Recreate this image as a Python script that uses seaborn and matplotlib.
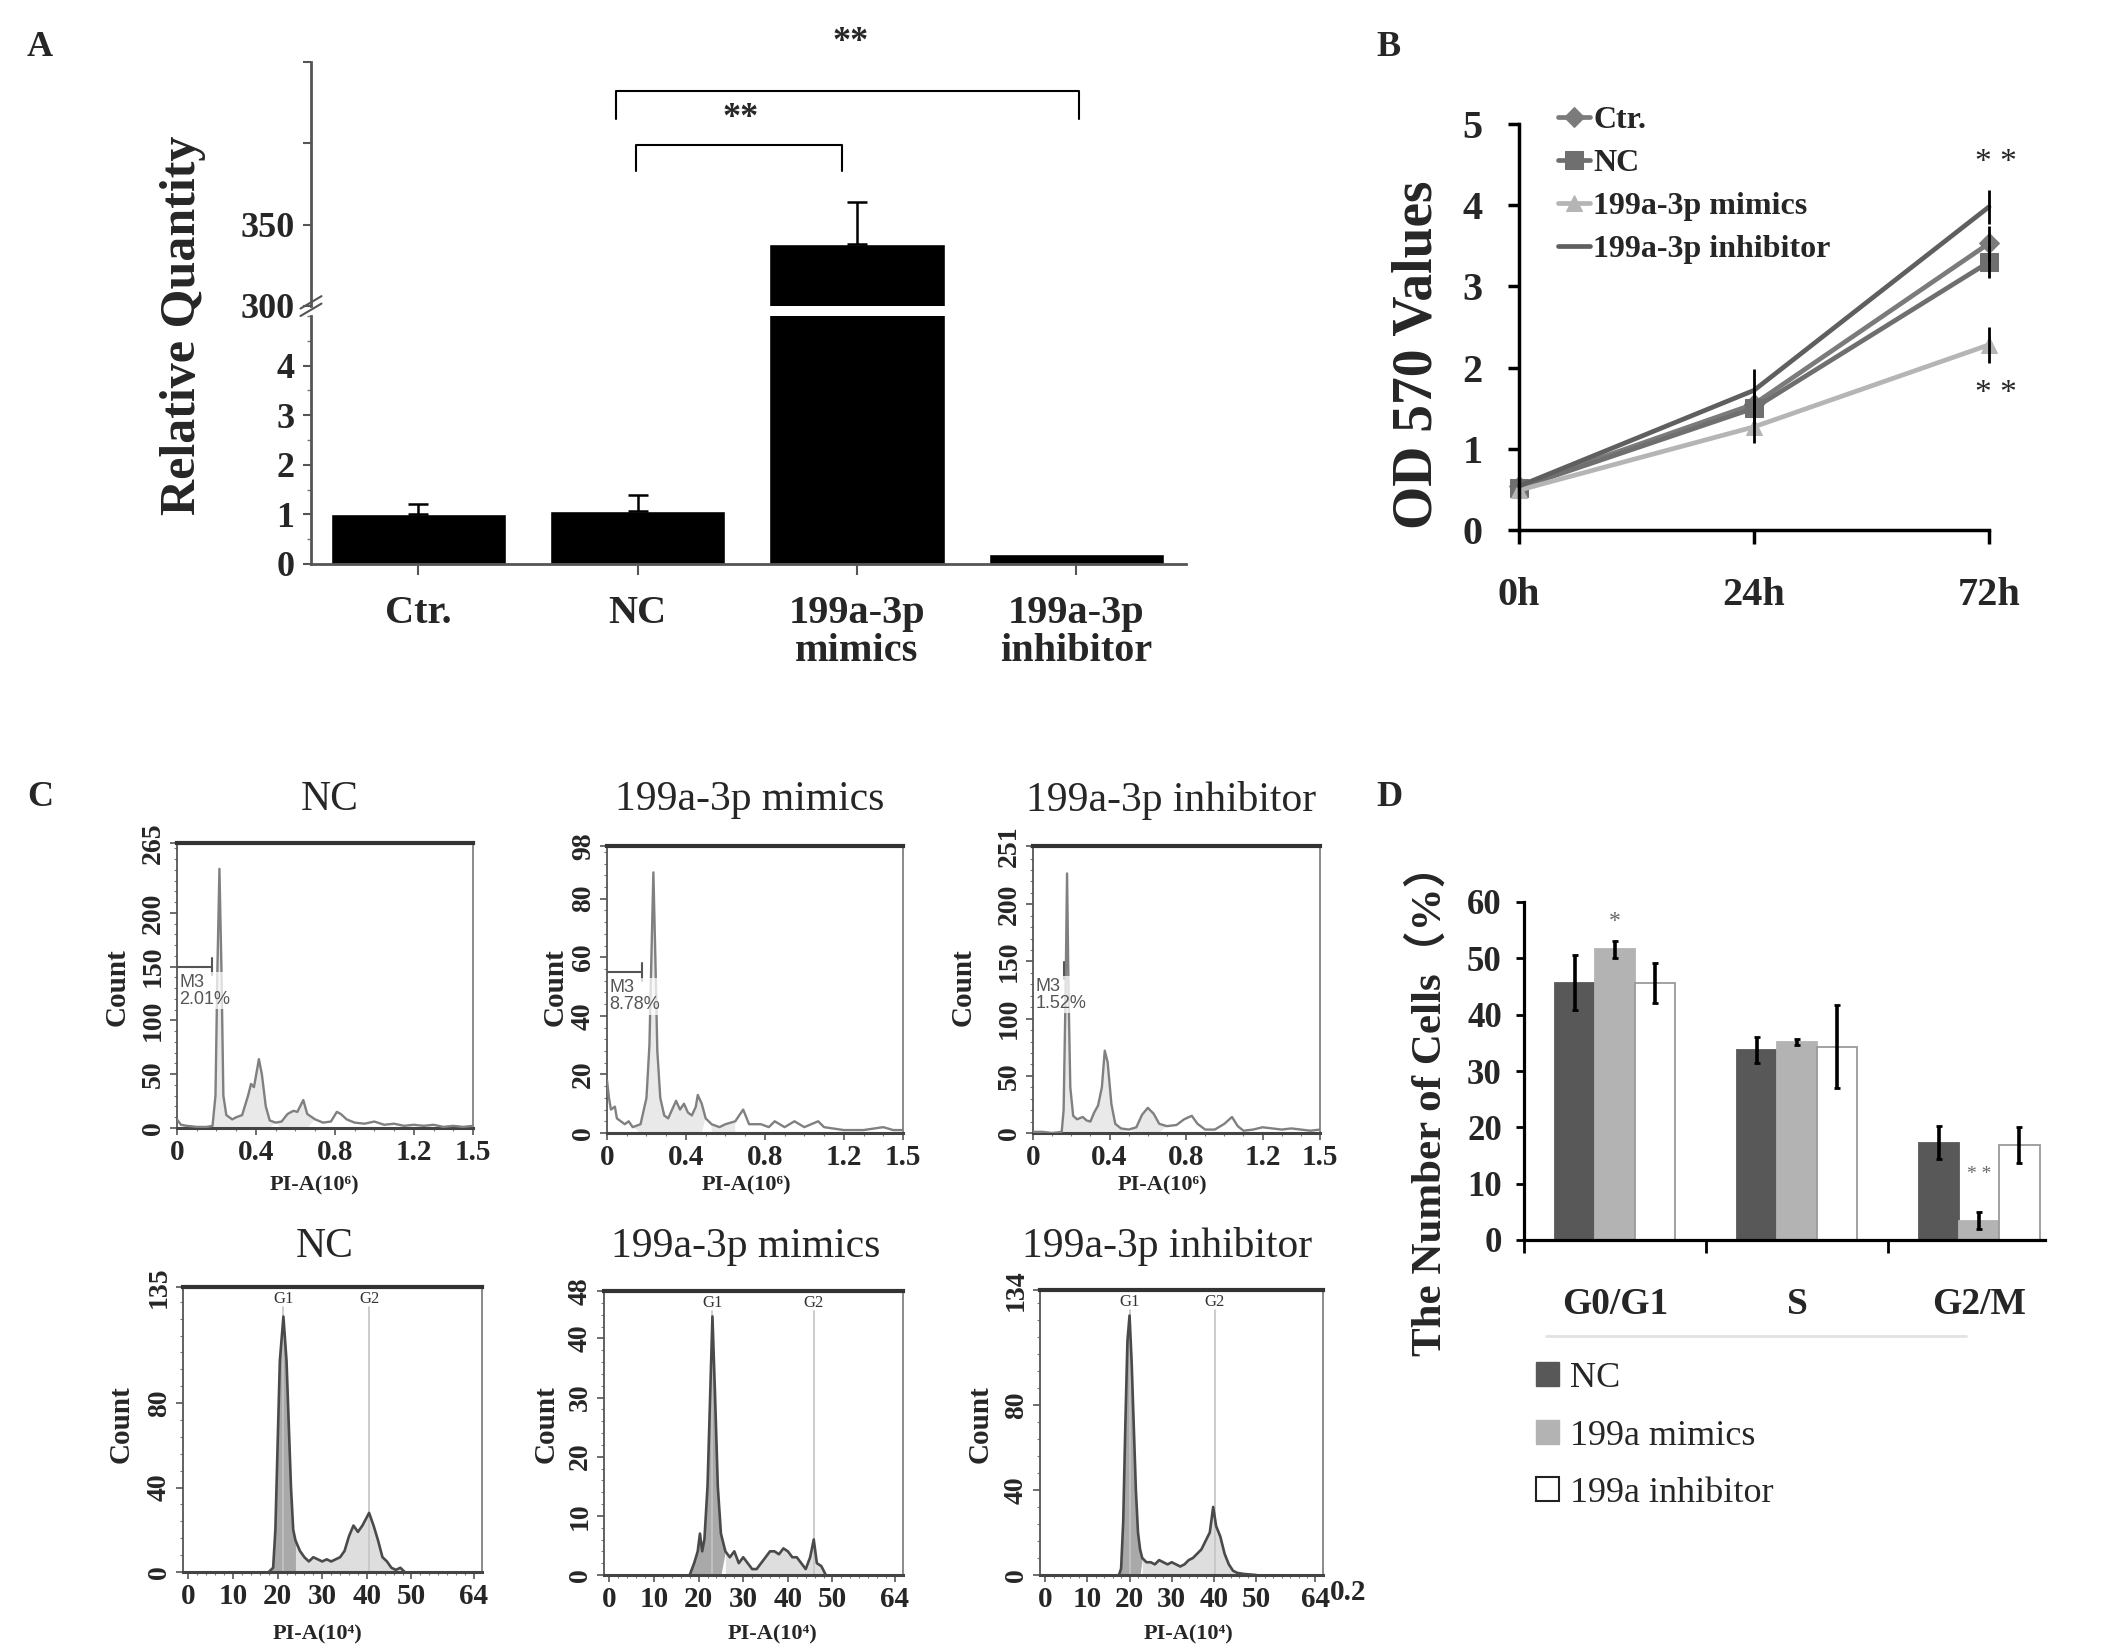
import numpy as np
import pandas as pd
import seaborn as sns
import matplotlib.pyplot as plt
from matplotlib.lines import Line2D
from matplotlib.patches import Patch
from matplotlib.ticker import AutoMinorLocator, MultipleLocator

# ---------------- data ----------------
# A: relative quantity (qPCR)
a_groups = ['Ctr.', 'NC', '199a-3p mimics', '199a-3p inhibitor']
a_ticklabels = ['Ctr.', 'NC', '199a-3p\nmimics', '199a-3p\ninhibitor']
a_values = [1.0, 1.06, 338, 0.21]
a_err = [0.21, 0.33, 26, 0.0]

# B: OD570 growth curve
b_times = ['0h', '24h', '72h']
b_groups = ['Ctr.', 'NC', '199a-3p mimics', '199a-3p inhibitor']
b_ctr = [0.54, 1.55, 3.53]
b_nc = [0.52, 1.50, 3.30]
b_mimics = [0.49, 1.27, 2.28]
b_inhib = [0.54, 1.72, 3.98]
b_ctr_err = [0.05, 0.20, 0.22]
b_nc_err = [0.05, 0.20, 0.20]
b_mimics_err = [0.05, 0.20, 0.22]
b_inhib_err = [0.05, 0.26, 0.21]

# C: flow cytometry histograms, (PI-A, count)
c_titles = ['NC', '199a-3p mimics', '199a-3p inhibitor']
hist_nc_top = [(0.00, 8), (0.02, 3), (0.05, 2), (0.10, 1), (0.15, 1), (0.18, 2), (0.195, 30),
               (0.205, 150), (0.215, 241), (0.225, 150), (0.235, 30), (0.25, 12), (0.28, 8),
               (0.30, 10), (0.33, 12), (0.36, 30), (0.375, 41), (0.39, 38), (0.415, 64),
               (0.43, 50), (0.45, 20), (0.47, 7), (0.50, 5), (0.53, 6), (0.56, 13), (0.59, 16),
               (0.61, 15), (0.64, 26), (0.66, 13), (0.70, 8), (0.74, 5), (0.78, 6), (0.81, 15),
               (0.83, 13), (0.86, 8), (0.90, 5), (0.95, 4), (1.00, 6), (1.05, 3), (1.10, 4),
               (1.15, 2), (1.20, 3), (1.25, 2), (1.30, 3), (1.35, 1), (1.40, 2), (1.45, 1), (1.50, 2)]
hist_mimics_top = [(0.00, 18), (0.01, 12), (0.02, 8), (0.04, 9), (0.05, 5), (0.07, 4), (0.09, 3),
                   (0.11, 4), (0.13, 2), (0.17, 3), (0.20, 12), (0.215, 30), (0.225, 60),
                   (0.235, 89), (0.245, 60), (0.255, 28), (0.27, 12), (0.29, 6), (0.31, 5),
                   (0.33, 8), (0.35, 11), (0.37, 8), (0.39, 10), (0.41, 7), (0.43, 6), (0.45, 9),
                   (0.46, 13), (0.48, 10), (0.50, 5), (0.53, 3), (0.57, 2), (0.60, 3), (0.65, 4),
                   (0.69, 8), (0.72, 3), (0.78, 3), (0.82, 2), (0.85, 4), (0.90, 2), (0.95, 4),
                   (1.00, 2), (1.07, 4), (1.10, 2), (1.20, 1), (1.30, 1), (1.40, 2), (1.45, 1), (1.50, 1)]
hist_inhib_top = [(0.00, 1), (0.05, 1), (0.10, 0), (0.15, 1), (0.16, 20), (0.17, 120), (0.178, 227),
                  (0.186, 120), (0.195, 40), (0.21, 15), (0.23, 12), (0.26, 14), (0.28, 11),
                  (0.30, 10), (0.32, 18), (0.34, 24), (0.36, 40), (0.375, 72), (0.39, 62),
                  (0.41, 25), (0.43, 8), (0.46, 4), (0.50, 3), (0.54, 5), (0.57, 16), (0.60, 22),
                  (0.63, 17), (0.66, 8), (0.70, 6), (0.75, 7), (0.79, 12), (0.83, 15), (0.86, 8),
                  (0.90, 3), (0.95, 3), (1.00, 8), (1.04, 14), (1.07, 6), (1.10, 2), (1.15, 3),
                  (1.20, 5), (1.25, 4), (1.30, 3), (1.35, 4), (1.40, 3), (1.45, 2), (1.50, 3)]
top_ymax = [265, 98, 251]
top_yticks = [[0, 50, 100, 150, 200, 265], [0, 20, 40, 60, 80, 98], [0, 50, 100, 150, 200, 251]]
m3_text = ['M3\n2.01%', 'M3\n8.78%', 'M3\n1.52%']
m3_level = [150, 55, 142]

hist_nc_bot = [(18, 0), (19, 2), (19.5, 20), (20, 60), (20.5, 100), (21.3, 121), (22, 100),
               (22.5, 70), (23, 40), (23.5, 20), (24, 15), (25, 10), (26, 7), (27, 5), (28, 7),
               (29, 6), (30, 5), (31, 6), (32, 5), (33, 6), (34, 7), (35, 10), (36, 17), (37, 22),
               (38, 19), (39, 22), (40.5, 28), (41.5, 22), (42.5, 15), (43.5, 7), (44.5, 5),
               (45.5, 2), (46.5, 1), (47.5, 2), (48.5, 0)]
hist_mimics_bot = [(18, 0), (19, 2), (19.8, 4), (20.3, 7), (20.8, 4), (21.3, 6), (22, 15),
                   (22.5, 28), (23.1, 43.7), (23.7, 30), (24.3, 15), (25, 7), (26, 4), (27, 3),
                   (28, 4), (29, 2), (30, 3), (31, 2), (32, 1), (33, 1), (34, 2), (35, 3), (36, 4),
                   (37, 4), (38, 3.5), (39, 4.5), (40, 4), (41, 3), (42, 3), (43, 2), (44, 1),
                   (45, 3), (45.8, 6), (46.5, 2), (47.5, 1.5), (48.5, 0)]
hist_inhib_bot = [(17.5, 0), (18, 3), (18.5, 25), (19, 70), (19.5, 110), (20, 122), (20.5, 100),
                  (21, 70), (21.5, 40), (22, 20), (22.5, 12), (23, 8), (24, 6), (25, 6), (26, 5),
                  (27, 7), (28, 6), (29, 5), (30, 6), (31, 5), (32, 4), (33, 5), (34, 7), (35, 8),
                  (36, 10), (37, 12), (38, 16), (39, 20), (39.8, 32), (40.5, 23), (41.5, 18),
                  (42.5, 10), (43.5, 5), (44.5, 2), (45.5, 1), (47, 0.5), (50, 0)]
bot_ymax = [135, 48, 134]
bot_yticks = [[0, 40, 80, 135], [0, 10, 20, 30, 40, 48], [0, 40, 80, 134]]
g1_pos = [21.3, 23.1, 20.0]
g2_pos = [40.5, 45.8, 40.2]

# D: cell cycle distribution
d_phases = ['G0/G1', 'S', 'G2/M']
d_groups = ['NC', '199a mimics', '199a inhibitor']
d_nc = [45.7, 33.8, 17.3]
d_mimics = [51.6, 35.2, 3.4]
d_inhib = [45.6, 34.3, 16.8]
d_nc_err = [4.9, 2.3, 3.0]
d_mimics_err = [1.5, 0.5, 1.5]
d_inhib_err = [3.5, 7.4, 3.2]

# ---------------- figure ----------------
W, H = 2126, 1646
sns.set_style("ticks")
plt.rcParams['font.family'] = ['Liberation Serif', 'Noto Sans CJK SC', 'DejaVu Sans']
fig = plt.figure(figsize=(W / 100, H / 100), dpi=100)


def add_ax(l, t, r, b):
    return fig.add_axes([l / W, 1 - b / H, (r - l) / W, (b - t) / H])


def ftext(x, y, s, **kw):
    fig.text(x / W, 1 - y / H, s, **kw)


for lab, (x, y) in zip('ABCD', [(27, 47), (1376, 47), (27, 797), (1376, 797)]):
    ftext(x, y, lab, fontsize=26, fontweight='bold', ha='left', va='center')

# ---------------- A ----------------
ax_hi = add_ax(311, 62, 1186, 306)
ax_lo = add_ax(311, 316, 1186, 564)
for ax in (ax_hi, ax_lo):
    sns.barplot(x=a_groups, y=a_values, color='black', width=0.8, errorbar=None,
                saturation=1, ax=ax)
    ax.set_xlim(-0.49, 3.5)
    for s in ax.spines.values():
        s.set_color('#555555')
        s.set_linewidth(2)
    ax.spines['top'].set_visible(False)
    ax.spines['right'].set_visible(False)

centers = [p.get_x() + p.get_width() / 2 for p in ax_lo.patches]
ax_lo.set_ylim(0, 5)
ax_lo.set_yticks([0, 1, 2, 3, 4])
ax_lo.yaxis.set_minor_locator(MultipleLocator(0.5))
ax_lo.set_yticklabels(['0', '1', '2', '3', '4'], fontsize=26, fontweight='bold')
ax_lo.set_xticks(range(4))
ax_lo.set_xticklabels(a_ticklabels, fontsize=29, fontweight='bold', linespacing=1.05)
ax_lo.tick_params(axis='x', length=8, width=1.5, color='#555555', pad=14)
ax_lo.tick_params(axis='y', which='major', length=6, width=1.5, color='#555555', pad=6)
ax_lo.tick_params(axis='y', which='minor', length=3, width=1, color='#777777')
ax_lo.errorbar(centers[:2], a_values[:2], yerr=[[0, 0], a_err[:2]], fmt='none',
               ecolor='black', elinewidth=1.8, capsize=7, capthick=1.8)

ax_hi.set_ylim(300, 450)
ax_hi.spines['bottom'].set_visible(False)
ax_hi.set_xticks([])
ax_hi.set_yticks([300, 350, 400, 450])
ax_hi.set_yticklabels(['300', '350', '', ''], fontsize=26, fontweight='bold')
ax_hi.tick_params(axis='y', length=6, width=1.5, color='#555555', pad=6)
ax_hi.errorbar([centers[2]], [a_values[2]], yerr=[[0], [a_err[2]]], fmt='none',
               ecolor='black', elinewidth=1.8, capsize=7, capthick=1.8)
ax_hi.set_xlabel('')
ax_lo.set_xlabel('')

# axis break marks
for dy in (0.0, 0.03):
    ax_lo.plot([-0.012, 0.012], [1.0 + dy, 1.05 + dy], transform=ax_lo.transAxes,
               color='#555555', lw=1.5, clip_on=False)

# significance brackets
def bracket(ax, x0, x1, y, drop, label, ty):
    ax.plot([x0, x0, x1, x1], [y - drop, y, y, y - drop], color='black', lw=1.5, clip_on=False)
    ax.text(ty[0], ty[1], label, ha='center', va='center',
            fontsize=26, fontweight='bold', clip_on=False)

bracket(ax_hi, 0.90, 3.01, 432, 17, '**', (1.97, 462))
bracket(ax_hi, 0.99, 1.93, 399, 16, '**', (1.47, 415))
ftext(183, 325, 'Relative Quantity', rotation=90, fontsize=36, fontweight='bold',
      ha='center', va='center')

# ---------------- B ----------------
ax_b = add_ax(1519, 124, 1989, 530)
b_series = [b_ctr, b_nc, b_mimics, b_inhib]
b_errs = [b_ctr_err, b_nc_err, b_mimics_err, b_inhib_err]
b_colors = ['#7b7b7b', '#6f6f6f', '#b5b5b5', '#5f5f5f']
b_markers = ['D', 's', '^', None]
b_msize = [10, 13, 12, 0]
for name, vals, err, c, m, ms in zip(b_groups, b_series, b_errs, b_colors, b_markers, b_msize):
    sns.lineplot(x=b_times, y=vals, ax=ax_b, color=c, lw=3.4, marker=m, markersize=ms,
                 markeredgecolor=c, label=name, sort=False, clip_on=False)
for vals, err in zip(b_series, b_errs):
    ax_b.errorbar(b_times, vals, yerr=err, fmt='none', ecolor='black', elinewidth=2,
                  capsize=0, zorder=5, clip_on=False)
ax_b.set_xlim(0, 2)
ax_b.set_ylim(0, 5)
ax_b.set_yticks([0, 1, 2, 3, 4, 5])
ax_b.set_yticklabels(['0', '1', '2', '3', '4', '5'], fontsize=29, fontweight='bold')
ax_b.set_xticks([0, 1, 2])
ax_b.set_xticklabels(b_times, fontsize=29, fontweight='bold')
ax_b.tick_params(axis='x', length=10, width=2.5, color='black', pad=24)
ax_b.tick_params(axis='y', length=8, width=2.5, color='black', pad=18)
for s in ('top', 'right'):
    ax_b.spines[s].set_visible(False)
for s in ('left', 'bottom'):
    ax_b.spines[s].set_linewidth(2.5)
    ax_b.spines[s].set_color('black')
ax_b.set_xlabel('')
ax_b.set_ylabel('')
handles, labels = ax_b.get_legend_handles_labels()
ax_b.legend(handles, labels, loc='upper left', bbox_to_anchor=(1558 / W, 1 - 106 / H),
            bbox_transform=fig.transFigure, frameon=False, handlelength=1.0,
            handletextpad=0.1, labelspacing=0.42, borderpad=0, borderaxespad=0,
            prop={'family': 'Liberation Serif', 'weight': 'bold', 'size': 23})
ax_b.text(2.03, 4.52, '* *', ha='center', va='center', fontsize=24, clip_on=False)
ax_b.text(2.03, 1.68, '* *', ha='center', va='center', fontsize=24, clip_on=False)
ftext(1417, 355, 'OD 570 Values', rotation=90, fontsize=40, fontweight='bold',
      ha='center', va='center')

# ---------------- C ----------------
def style_hist(ax, xlim, xticks, xticklabels, ylim, yticks):
    ax.set_xlim(*xlim)
    ax.set_ylim(*ylim)
    ax.set_xticks(xticks)
    ax.set_xticklabels(xticklabels, fontsize=21, fontweight='bold')
    ax.set_yticks(yticks)
    ax.set_yticklabels([str(t) for t in yticks], fontsize=20, fontweight='bold',
                       rotation=90, va='center')
    ax.xaxis.set_minor_locator(AutoMinorLocator(4))
    ax.yaxis.set_minor_locator(AutoMinorLocator(5))
    ax.tick_params(which='major', length=5, width=1.2, color='#555555', pad=3)
    ax.tick_params(which='minor', length=2.5, width=0.8, color='#777777')
    ax.spines['top'].set_linewidth(3)
    ax.spines['top'].set_color('#333333')
    ax.spines['right'].set_linewidth(1.2)
    ax.spines['right'].set_color('#777777')
    ax.spines['left'].set_linewidth(1.3)
    ax.spines['left'].set_color('#555555')
    ax.spines['bottom'].set_linewidth(2.2)
    ax.spines['bottom'].set_color('#444444')
    ax.set_xlabel('')
    ax.set_ylabel('')


top_boxes = [(177, 843, 473, 1128), (607, 846, 903, 1133), (1033, 846, 1320, 1133)]
bot_boxes = [(183, 1287, 482, 1572), (604, 1291, 903, 1575), (1040, 1290, 1323, 1575)]
top_hists = [hist_nc_top, hist_mimics_top, hist_inhib_top]
bot_hists = [hist_nc_bot, hist_mimics_bot, hist_inhib_bot]
title_x_top = [330, 750, 1171]
title_x_bot = [325, 746, 1167]
count_x_top = [117, 555, 963]
count_x_bot = [121, 546, 980]
xlab_x_top = [314, 746, 1162]
xlab_x_bot = [317, 772, 1188]

for i in range(3):
    # top row
    ax = add_ax(*top_boxes[i])
    xs, ys = np.array(top_hists[i], dtype=float).T
    sns.lineplot(x=xs, y=ys, ax=ax, color='#808080', lw=1.7, zorder=3)
    ax.fill_between(xs, ys, where=((xs >= 0.15) & (xs <= 0.48)) | ((xs >= 0.53) & (xs <= 0.68)),
                    color='#e9e9e9', interpolate=True, zorder=1, lw=0)
    style_hist(ax, (0, 1.5), [0, 0.4, 0.8, 1.2, 1.5], ['0', '0.4', '0.8', '1.2', '1.5'],
               (0, top_ymax[i]), top_yticks[i])
    lvl = m3_level[i]
    tick_h = top_ymax[i] * 0.03
    if i < 2:
        ax.plot([0, 0.175], [lvl, lvl], color='#555555', lw=1.5, zorder=4)
    ax.plot([0.175 if i < 2 else 0.16] * 2, [lvl - tick_h, lvl + tick_h], color='#555555',
            lw=1.5, zorder=4)
    ax.text(0.012, lvl - top_ymax[i] * 0.025, m3_text[i], ha='left', va='top', fontsize=13,
            color='#555555', family='Liberation Sans', linespacing=1.0, zorder=5,
            bbox=dict(facecolor='white', edgecolor='none', alpha=0.75, pad=1))
    ftext(title_x_top[i], 800, c_titles[i], fontsize=30, ha='center', va='center')
    ftext(count_x_top[i], 987, 'Count', rotation=90, fontsize=21, fontweight='bold',
          ha='center', va='center')
    ftext(xlab_x_top[i], 1185, 'PI-A(10\u2076)', fontsize=16, fontweight='bold',
          ha='center', va='center')

    # bottom row
    ax = add_ax(*bot_boxes[i])
    xs, ys = np.array(bot_hists[i], dtype=float).T
    split = g1_pos[i] + 2.7
    ax.fill_between(xs, ys, where=xs <= split, color='#a9a9a9', interpolate=True, zorder=1, lw=0)
    ax.fill_between(xs, ys, where=xs >= split, color='#dedede', interpolate=True, zorder=1, lw=0)
    sns.lineplot(x=xs, y=ys, ax=ax, color='#4a4a4a', lw=1.9, zorder=3)
    for g, gl in zip((g1_pos[i], g2_pos[i]), ('G1', 'G2')):
        ax.axvline(g, ymin=0, ymax=0.93, color='#c4c4c4', lw=1.2, zorder=2)
        ax.text(g, 0.985, gl, transform=ax.get_xaxis_transform(), ha='center', va='top',
                fontsize=12, color='#333333')
    style_hist(ax, (-1.2, 65.8), [0, 10, 20, 30, 40, 50, 64],
               ['0', '10', '20', '30', '40', '50', '64'], (0, bot_ymax[i]), bot_yticks[i])
    ax.xaxis.set_minor_locator(MultipleLocator(2))
    ftext(title_x_bot[i], 1247, c_titles[i], fontsize=30, ha='center', va='center')
    ftext(count_x_bot[i], 1424, 'Count', rotation=90, fontsize=21, fontweight='bold',
          ha='center', va='center')
    ftext(xlab_x_bot[i], 1634, 'PI-A(10\u2074)', fontsize=16, fontweight='bold',
          ha='center', va='center')

ftext(1330, 1592, '0.2', fontsize=21, fontweight='bold', ha='left', va='center')

# ---------------- D ----------------
ax_d = add_ax(1524, 902, 2045, 1240)
d_df = pd.DataFrame({
    'phase': d_phases * 3,
    'group': [g for g in d_groups for _ in d_phases],
    'value': d_nc + d_mimics + d_inhib,
})
d_colors = ['#585858', '#b3b3b3', '#ffffff']
sns.barplot(data=d_df, x='phase', y='value', hue='group', hue_order=d_groups,
            palette=d_colors, width=0.66, errorbar=None, saturation=1, legend=False, ax=ax_d)
d_errs = [d_nc_err, d_mimics_err, d_inhib_err]
bars = ax_d.patches
for gi in range(3):
    grp_bars = bars[gi * 3:(gi + 1) * 3]
    xs = [p.get_x() + p.get_width() / 2 for p in grp_bars]
    hs = [p.get_height() for p in grp_bars]
    for p in grp_bars:
        p.set_edgecolor('#9a9a9a' if gi == 2 else d_colors[gi])
        p.set_linewidth(1.3)
    ax_d.errorbar(xs, hs, yerr=d_errs[gi], fmt='none', ecolor='black', elinewidth=2.6,
                  capsize=2.5, capthick=2, zorder=5)
    if gi == 1:
        ax_d.text(xs[0], 56.5, '*', ha='center', va='center', fontsize=17, color='#666666')
        ax_d.text(xs[2], 11.6, '* *', ha='center', va='center', fontsize=14, color='#666666')
ax_d.set_xlim(-0.5, 2.36)
ax_d.set_ylim(0, 60)
ax_d.set_yticks(range(0, 61, 10))
ax_d.set_yticklabels([str(t) for t in range(0, 61, 10)], fontsize=25, fontweight='bold')
ax_d.set_xticks([0, 1, 2])
ax_d.set_xticklabels(d_phases, fontsize=27, fontweight='bold')
ax_d.set_xticks([-0.5, 0.5, 1.5], minor=True)
ax_d.tick_params(axis='x', which='major', length=0, pad=34)
ax_d.tick_params(axis='x', which='minor', length=9, width=2, color='black')
ax_d.tick_params(axis='y', length=6, width=2, color='black', pad=10)
for s in ('top', 'right'):
    ax_d.spines[s].set_visible(False)
for s in ('left', 'bottom'):
    ax_d.spines[s].set_linewidth(2.3)
    ax_d.spines[s].set_color('black')
ax_d.set_xlabel('')
ax_d.set_ylabel('')
ftext(1429, 1100, 'The Number of Cells\uff08%\uff09', rotation=90, fontsize=31,
      fontweight='bold', ha='center', va='center')
fig.add_artist(Line2D([1546 / W, 1966 / W], [1 - 1336 / H] * 2, color='#e2e2e2', lw=2))
d_handles = [Patch(facecolor=d_colors[0], edgecolor=d_colors[0]),
             Patch(facecolor=d_colors[1], edgecolor=d_colors[1]),
             Patch(facecolor='white', edgecolor='#222222', linewidth=1.5)]
fig.legend(d_handles, d_groups, loc='upper left', bbox_to_anchor=(1536 / W, 1 - 1362 / H),
           frameon=False, handlelength=0.65, handleheight=0.65, handletextpad=0.3,
           labelspacing=0.68, borderpad=0, borderaxespad=0,
           prop={'family': 'Liberation Serif', 'size': 26})

fig.savefig('out.png', dpi=100)
